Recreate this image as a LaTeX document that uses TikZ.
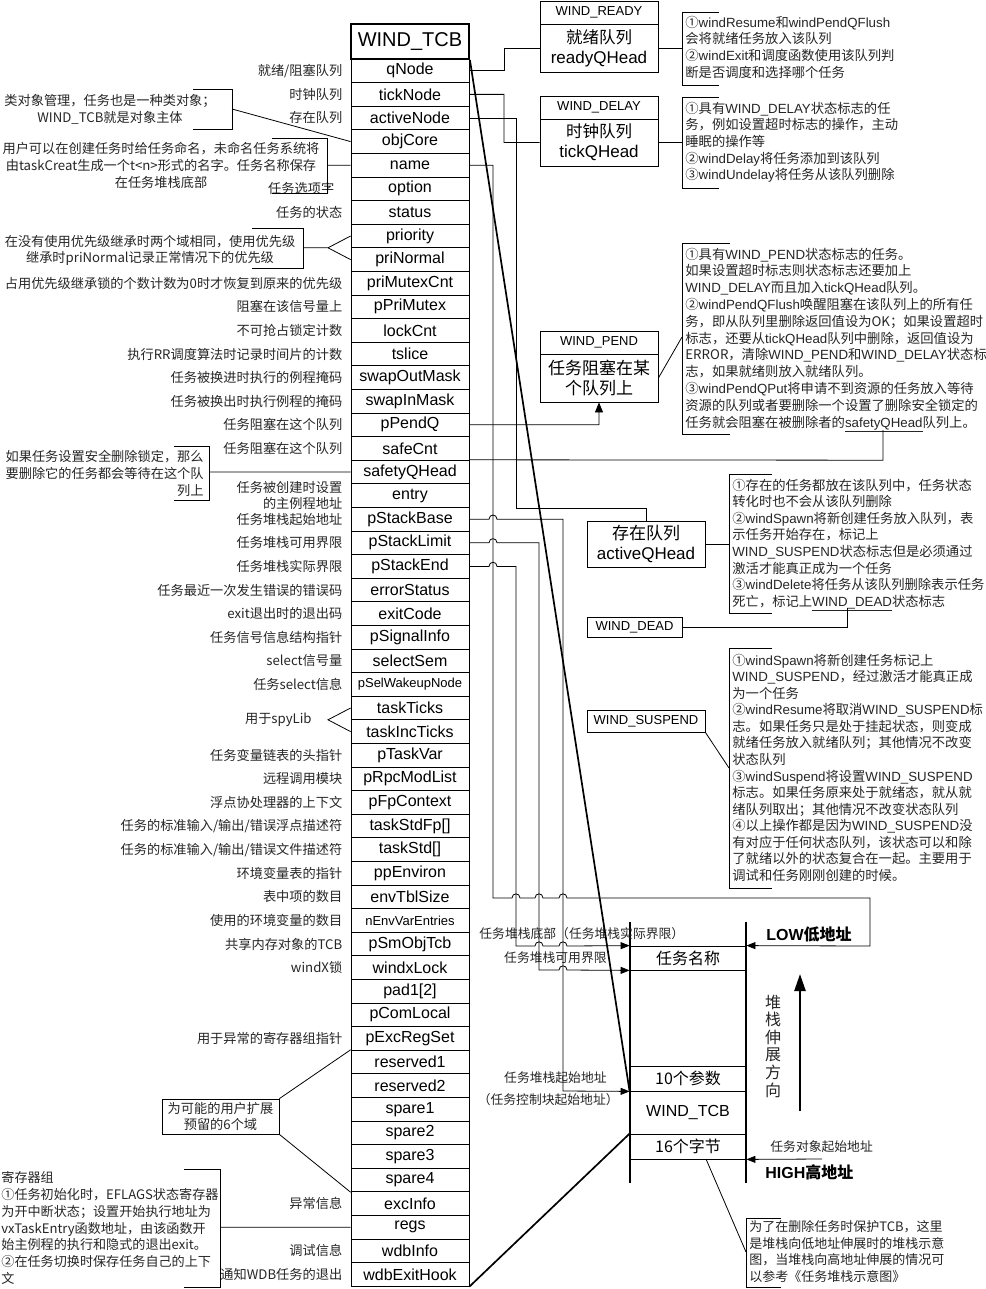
\documentclass[tikz,border=0pt]{standalone}
\usepackage{fontspec}
\setmainfont{Liberation Sans}
\newfontfamily\cjk{Noto Sans CJK SC}
\usetikzlibrary{arrows.meta,calc}
\newcommand\smallfield[1]{{\fontsize{13}{13}\selectfont #1}}
\newcommand\ltn[1]{{\rmfamily #1}}
\begin{document}
\begin{tikzpicture}[x=1pt,y=-1pt,line width=0.8pt,
  field/.style={draw,minimum width=118pt,minimum height=23.6pt,inner sep=0pt,font=\fontsize{16}{16}\selectfont},
  lbl/.style={anchor=east,inner sep=0pt,text=black!85,font=\cjk\fontsize{13.2}{15.5}\selectfont,align=right,xshift=-8pt},
  lnote/.style={inner sep=0pt,text=black!85,font=\cjk\fontsize{13.2}{17}\selectfont},
  note/.style={inner sep=0pt,text=black!85,font=\cjk\fontsize{13.3}{16.7}\selectfont,align=left,anchor=north west},
  qhead/.style={draw,minimum width=118pt,minimum height=23pt,inner sep=0pt,font=\fontsize{13}{13}\selectfont},
  qbody/.style={draw,minimum width=118pt,minimum height=48pt,inner sep=0pt,align=center,font=\fontsize{17}{20}\selectfont},
  stk/.style={draw,minimum width=116pt,inner sep=0pt,font=\cjk\fontsize{16}{16}\selectfont},
  stl/.style={inner sep=0pt,text=black!85,font=\cjk\fontsize{12.8}{12.8}\selectfont},
  arr/.style={-{Triangle[length=9pt,width=7pt]}},
  diag/.style={line width=1.7pt},
]
\fill[white] (0,0) rectangle (985,1289);
\useasboundingbox (0,0) rectangle (985,1289);

% ---------------- WIND_TCB ----------------
\node[draw,line width=1.8pt,minimum width=118pt,minimum height=35pt,inner sep=0pt,font=\fontsize{20}{20}\selectfont] (tcb) at (410,41.5) {WIND\_TCB};
\foreach \fld [count=\i] in {qNode,tickNode,activeNode,objCore,name,option,status,priority,priNormal,priMutexCnt,pPriMutex,lockCnt,tslice,swapOutMask,swapInMask,pPendQ,safeCnt,safetyQHead,entry,pStackBase,pStackLimit,pStackEnd,errorStatus,exitCode,pSignalInfo,selectSem,\smallfield{pSelWakeupNode},taskTicks,taskIncTicks,pTaskVar,pRpcModList,pFpContext,taskStdFp[],taskStd[],ppEnviron,envTblSize,\smallfield{nEnvVarEntries},pSmObjTcb,windxLock,pad1[2],pComLocal,pExcRegSet,reserved1,reserved2,spare1,spare2,spare3,spare4,excInfo,regs,wdbInfo,wdbExitHook}
  \node[field] (f\i) at (410,{59+(\i-0.5)*23.6}) {\fld};

% ---------------- left labels ----------------
\node[lbl] (l1) at (f1.west) {就绪/阻塞队列};
\node[lbl] (l2) at (f2.west) {时钟队列};
\node[lbl] (l3) at (f3.west) {存在队列};
\node[lbl,xshift=-8pt] (l6) at (f6.west) {任务选项字};
\node[lbl] (l7) at (f7.west) {任务的状态};
\node[lbl] (l10) at (f10.west) {占用优先级继承锁的个数计数为0时才恢复到原来的优先级};
\node[lbl] (l11) at (f11.west) {阻塞在该信号量上};
\node[lbl] (l12) at (f12.west) {不可抢占锁定计数};
\node[lbl] (l13) at (f13.west) {执行RR调度算法时记录时间片的计数};
\node[lbl] (l14) at (f14.west) {任务被换进时执行的例程掩码};
\node[lbl] (l15) at (f15.west) {任务被换出时执行例程的掩码};
\node[lbl] (l16) at (f16.west) {任务阻塞在这个队列};
\node[lbl] (l17) at (f17.west) {任务阻塞在这个队列};
\node[lbl] (l19) at (f19.west) {任务被创建时设置\\的主例程地址};
\node[lbl] (l20) at (f20.west) {任务堆栈起始地址};
\node[lbl] (l21) at (f21.west) {任务堆栈可用界限};
\node[lbl] (l22) at (f22.west) {任务堆栈实际界限};
\node[lbl] (l23) at (f23.west) {任务最近一次发生错误的错误码};
\node[lbl] (l24) at (f24.west) {exit退出时的退出码};
\node[lbl] (l25) at (f25.west) {任务信号信息结构指针};
\node[lbl] (l26) at (f26.west) {select信号量};
\node[lbl] (l27) at (f27.west) {任务select信息};
\node[lbl] (l30) at (f30.west) {任务变量链表的头指针};
\node[lbl] (l31) at (f31.west) {远程调用模块};
\node[lbl] (l32) at (f32.west) {浮点协处理器的上下文};
\node[lbl] (l33) at (f33.west) {任务的标准输入/输出/错误浮点描述符};
\node[lbl] (l34) at (f34.west) {任务的标准输入/输出/错误文件描述符};
\node[lbl] (l35) at (f35.west) {环境变量表的指针};
\node[lbl] (l36) at (f36.west) {表中项的数目};
\node[lbl] (l37) at (f37.west) {使用的环境变量的数目};
\node[lbl] (l38) at (f38.west) {共享内存对象的TCB};
\node[lbl] (l39) at (f39.west) {windX锁};
\node[lbl] (l42) at (f42.west) {用于异常的寄存器组指针};
\node[lbl] (l49) at (f49.west) {异常信息};
\node[lbl] (l51) at (f51.west) {调试信息};
\node[lbl] (l52) at (f52.west) {通知WDB任务的退出};

% objCore note
\node[lnote,align=center,anchor=north] (nObj) at (110,93.5) {类对象管理，任务也是一种类对象；\\WIND\_TCB就是对象主体};
\draw (193,89) -- (232,89) -- (232,129) -- (193,129);
\coordinate (bObj) at (232,109);
\draw (bObj) -- (f4.west);
% name note
\node[lnote,align=center,anchor=north] (nName) at (161,141.5) {用户可以在创建任务时给任务命名，未命名任务系统将\\由taskCreat生成一个t<n>形式的名字。任务名称保存\\在任务堆栈底部};
\draw (272,138) -- (327,138) -- (327,193) -- (272,193);
\coordinate (bName) at (327,165.2);
\draw (bName) -- (f5.west);
% priority note
\node[lnote,align=center,anchor=north,font=\cjk\fontsize{13.2}{16}\selectfont] (nPri) at (150,234.5) {在没有使用优先级继承时两个域相同，使用优先级\\继承时priNormal记录正常情况下的优先级};
\draw (252,228) -- (303,228) -- (303,268) -- (252,268);
\coordinate (bPri) at (303,247.8);
\coordinate (vPri) at (328,247.8);
\draw (bPri) -- (vPri) -- (f8.west);
\draw (vPri) -- (f9.west);
% safety note
\node[lnote,align=right,anchor=north east] (nSafe) at (204,449.5) {如果任务设置安全删除锁定，那么\\要删除它的任务都会等待在这个队\\列上};
\draw (174,446) -- (209,446) -- (209,500) -- (174,500);
\coordinate (bSafe) at (209,472);
\draw (bSafe) -- (f18.west);
% spyLib
\node[lbl,anchor=east,xshift=0pt] (nSpy) at (320,719.8) {用于spyLib};
\coordinate (vSpy) at (328,719.8);
\draw (f28.west) -- (vSpy) -- (f29.west);
% reserved box
\node[draw,minimum width=117pt,minimum height=35pt,inner sep=0pt,align=center,text=black!85,font=\cjk\fontsize{13.2}{16}\selectfont] (rsv) at (220.5,1116.5) {为可能的用户扩展\\预留的6个域};
\draw (rsv.north east) -- (f43.north west);
\draw (rsv.south east) -- (f48.south west);
% regs note
\node[lnote,align=left,anchor=north west,font=\cjk\fontsize{13.1}{16.7}\selectfont] (nRegs) at (1,1171.5) {寄存器组\\①任务初始化时，EFLAGS状态寄存器\\为开中断状态；设置开始执行地址为\\vxTaskEntry函数地址，由该函数开\\始主例程的执行和隐式的退出exit。\\②在任务切换时保存任务自己的上下\\文};
\draw (184,1169) -- (220,1169) -- (220,1287) -- (184,1287);
\coordinate (bRegs) at (220,1227.2);
\draw (bRegs) -- (f50.west);

% ---------------- queues ----------------
\node[qhead] (rdyH) at (599,12.5) {WIND\_READY};
\node[qbody] (rdy) at (599,48) {{\cjk\fontsize{16.5}{20}\selectfont 就绪队列}\\readyQHead};
\draw (f1.east) -- (504,70.8) -- (504,48) -- (rdy.west);
\draw (719,12) -- (682,12) -- (682,85) -- (719,85);
\coordinate (bRdy) at (682,48);
\draw (rdy.east) -- (bRdy);
\node[note] (nRdy) at (685,15.5) {①\ltn{windResume}和\ltn{windPendQFlush}\\会将就绪任务放入该队列\\②\ltn{windExit}和调度函数使用该队列判\\断是否调度和选择哪个任务};

\node[qhead] (dlyH) at (599,107.5) {WIND\_DELAY};
\node[qbody,minimum height=47pt] (dly) at (599,142.5) {{\cjk\fontsize{16.5}{20}\selectfont 时钟队列}\\tickQHead};
\draw (f2.east) -- (504,94.4) -- (504,142.5) -- (dly.west);
\draw (719,97) -- (682,97) -- (682,188) -- (719,188);
\coordinate (bDly) at (682,142.5);
\draw (dly.east) -- (bDly);
\node[note] (nDly) at (685,101.5) {①具有\ltn{WIND\_DELAY}状态标志的任\\务，例如设置超时标志的操作，主动\\睡眠的操作等\\②\ltn{windDelay}将任务添加到该队列\\③\ltn{windUndelay}将任务从该队列删除};

\node[qhead] (pndH) at (599,342.5) {WIND\_PEND};
\node[qbody,font=\cjk\fontsize{17}{20}\selectfont] (pnd) at (599,378) {任务阻塞在某\\个队列上};
\draw[-{Triangle[length=10pt,width=8pt]}] (f16.east) -- (599,424.8) -- (pnd.south);
\draw (730,243) -- (682,243) -- (682,434) -- (730,434);
\coordinate (bPnd) at (682,337);
\draw (pnd.east) -- (bPnd);
\node[note,font=\cjk\fontsize{13.3}{16.8}\selectfont] (nPnd) at (685,247.5) {①具有\ltn{WIND\_PEND}状态标志的任务。\\如果设置超时标志则状态标志还要加上\\\ltn{WIND\_DELAY}而且加入\ltn{tickQHead}队列。\\②\ltn{windPendQFlush}唤醒阻塞在该队列上的所有任\\务，即从队列里删除返回值设为OK；如果设置超时\\标志，还要从\ltn{tickQHead}队列中删除，返回值设为\\ERROR，清除\ltn{WIND\_PEND}和\ltn{WIND\_DELAY}状态标\\志，如果就绪则放入就绪队列。\\③\ltn{windPendQPut}将申请不到资源的任务放入等待\\资源的队列或者要删除一个设置了删除安全锁定的\\任务就会阻塞在被删除者的\underline{\ltn{safetyQHead}}队列上。};
\coordinate (sq) at (883,430);
\draw (f18.north east) -- (883,460.2) -- (sq);

\node[qbody,minimum height=46pt] (act) at (646,544) {{\cjk\fontsize{17}{20}\selectfont 存在队列}\\activeQHead};
\draw (f3.east) -- (516,118) -- (516,508) -- (646,508) -- (act.north);
\draw (772,474) -- (729,474) -- (729,613) -- (772,613);
\coordinate (bAct) at (729,544);
\draw (act.east) -- (bAct);
\node[note,font=\cjk\fontsize{13.3}{16.6}\selectfont] (nAct) at (732,478.5) {①存在的任务都放在该队列中，任务状态\\转化时也不会从该队列删除\\②\ltn{windSpawn}将新创建任务放入队列，表\\示任务开始存在，标记上\\\ltn{WIND\_SUSPEND}状态标志但是必须通过\\激活才能真正成为一个任务\\③\ltn{windDelete}将任务从该队列删除表示任务\\死亡，标记上\underline{\ltn{WIND\_DEAD}}状态标志};

\node[qhead,minimum width=95pt,minimum height=20pt] (dead) at (634.5,627) {WIND\_DEAD};
\coordinate (wd) at (847,608);
\draw (dead.east) -- (847,627) -- (wd);

\node[qhead,minimum height=22pt] (sus) at (646,721) {WIND\_SUSPEND};
\draw (772,648) -- (729,648) -- (729,888) -- (772,888);
\coordinate (bSus) at (729,768);
\draw (sus.south east) -- (bSus);
\node[note,font=\cjk\fontsize{13.3}{16.55}\selectfont] (nSus) at (732,653.5) {①\ltn{windSpawn}将新创建任务标记上\\\ltn{WIND\_SUSPEND}，经过激活才能真正成\\为一个任务\\②\ltn{windResume}将取消\ltn{WIND\_SUSPEND}标\\志。如果任务只是处于挂起状态，则变成\\就绪任务放入就绪队列；其他情况不改变\\状态队列\\③\ltn{windSuspend}将设置\ltn{WIND\_SUSPEND}\\标志。如果任务原来处于就绪态，就从就\\绪队列取出；其他情况不改变状态队列\\④以上操作都是因为\ltn{WIND\_SUSPEND}没\\有对应于任何状态队列，该状态可以和除\\了就绪以外的状态复合在一起。主要用于\\调试和任务刚刚创建的时候。};

% ---------------- stack ----------------
\draw[line width=1.2pt] (630,922) -- (630,1183);
\draw[line width=1.2pt] (746,922) -- (746,1183);
\node[stk,minimum height=24pt] (sn) at (688,958) {任务名称};
\node[stk,minimum height=25pt] (sp) at (688,1078.5) {10个参数};
\node[stk,minimum height=43pt,font=\fontsize{16}{16}\selectfont] (st) at (688,1112.5) {WIND\_TCB};
\node[stk,minimum height=25pt] (sb) at (688,1146.5) {16个字节};

\node[stl,anchor=west] (tEnd) at (479,934) {任务堆栈底部（任务堆栈实际界限）};
\node[stl,anchor=east] (tLim) at (607,958) {任务堆栈可用界限};
\node[stl,anchor=east] (tBase) at (607,1078) {任务堆栈起始地址};
\node[stl,anchor=east] (tTcb) at (619,1100) {（任务控制块起始地址）};

\node[inner sep=0pt,anchor=west,font=\bfseries\fontsize{16}{16}\selectfont] (low) at (766,934) {LOW{\cjk\bfseries 低地址}};
\node[inner sep=0pt,anchor=west,font=\bfseries\fontsize{16}{16}\selectfont] (high) at (765,1172) {HIGH{\cjk\bfseries 高地址}};
\node[stl,anchor=west] (tObj) at (770,1147) {任务对象起始地址};
\node[inner sep=0pt,align=center,text=black!85,font=\cjk\fontsize{16}{17.6}\selectfont] (grow) at (773,1046) {堆\\栈\\伸\\展\\方\\向};
\coordinate (upB) at (800,1111);
\coordinate (upT) at (800,974);
\draw[line width=2.4pt,-{Triangle[length=17pt,width=11pt]}] (upB) -- (upT);
\coordinate (hiS) at (822,1159);
\draw[arr] (hiS) -- (sb.south east);

% connectors into stack
\draw[arr] (f5.east) -- (493,165.2) -- (493,898)
  -- (512,898) .. controls (512,892.5) and (520,892.5) .. (520,898)
  -- (535,898) .. controls (535,892.5) and (543,892.5) .. (543,898)
  -- (559,898) .. controls (559,892.5) and (567,892.5) .. (567,898)
  -- (870,898) -- (870,946) -- (sn.north east);
\draw[arr] (f20.east) -- (489,519.2) .. controls (489,513.7) and (497,513.7) .. (497,519.2)
  -- (563,519.2) -- (563,1091) -- (sp.south west);
\draw[arr] (f21.east) -- (489,542.8) .. controls (489,537.3) and (497,537.3) .. (497,542.8)
  -- (539,542.8) -- (539,970)
  -- (559,970) .. controls (559,964.5) and (567,964.5) .. (567,970) -- (sn.south west);
\draw[arr] (f22.east) -- (489,566.4) .. controls (489,560.9) and (497,560.9) .. (497,566.4)
  -- (516,566.4) -- (516,946)
  -- (535,946) .. controls (535,940.5) and (543,940.5) .. (543,946)
  -- (559,946) .. controls (559,940.5) and (567,940.5) .. (567,946) -- (sn.north west);

% TCB mapping diagonals
\draw[diag] (tcb.south east) -- (sp.south west);
\draw[diag] (f52.south east) -- (sb.north west);

% bottom note
\draw (781,1218) -- (746,1218) -- (746,1287) -- (781,1287);
\coordinate (sbx) at (706,1159);
\coordinate (bBot) at (746,1252);
\draw (sbx) -- (bBot);
\node[note,font=\cjk\fontsize{13}{16.4}\selectfont] (nBot) at (749,1220.5) {为了在删除任务时保护TCB，这里\\是堆栈向低地址伸展时的堆栈示意\\图，当堆栈向高地址伸展的情况可\\以参考《任务堆栈示意图》};
\end{tikzpicture}
\end{document}
